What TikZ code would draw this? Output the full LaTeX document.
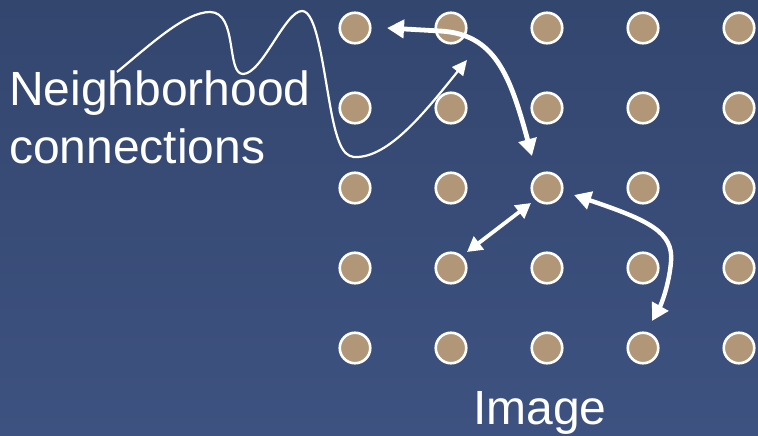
\documentclass[tikz,border=0pt]{standalone}
\usepackage{fontspec}
\setmainfont{Liberation Sans}
\usetikzlibrary{arrows.meta}
\definecolor{bgtop}{RGB}{51,70,110}
\definecolor{bgbot}{RGB}{62,82,129}
\definecolor{dot}{RGB}{177,151,120}
\tikzset{
  dotnode/.style={circle, fill=dot, draw=white, line width=2.6pt, minimum size=30.5pt, inner sep=0pt},
  lbl/.style={text=white, font=\fontsize{48}{57}\selectfont, inner sep=0pt, anchor=base west},
  thickarr/.style={white, line width=4.8pt, {Triangle[length=17pt,width=18pt]}-{Triangle[length=17pt,width=18pt]}},
  medarr/.style={white, line width=3.8pt, {Triangle[length=15pt,width=16pt]}-{Triangle[length=15pt,width=16pt]}},
  thinarr/.style={white, line width=2.2pt, -{Triangle[length=15pt,width=14pt]}},
}
\begin{document}
\begin{tikzpicture}[x=1pt,y=-1pt]
\shade[top color=bgtop, bottom color=bgbot] (0,0) rectangle (758,436);
\useasboundingbox (0,0) rectangle (758,436);
\foreach \i [count=\ci] in {355,451,547,643,739}{
  \foreach \j [count=\cj] in {28,108,188,268,348}{
    \node[dotnode] (c-\ci-\cj) at (\i,\j) {};
  }
}
\node[lbl] (nb) at (9,106) {Neighborhood};
\node[lbl] (cn) at (9,163) {connections};
\node[lbl] (img) at (473,424) {Image};
% connector endpoints
\coordinate (a1s) at (387,28);
\coordinate (a1e) at (532,156);
\coordinate (t0) at (117,72);
\coordinate (t1) at (467,60);
\coordinate (a3s) at (467,252);
\coordinate (a3e) at (531,203);
\coordinate (a4s) at (574,195);
\coordinate (a4e) at (652,321);
% thick arrow top
\draw[thickarr] (a1s) -- (440,31) .. controls (495,34) and (510,75) .. (a1e);
% thin wavy arrow
\draw[thinarr] (t0) .. controls (150,45) and (185,12) .. (210,12)
  .. controls (238,12) and (226,74) .. (243,74)
  .. controls (262,74) and (285,11) .. (302,11)
  .. controls (316,11) and (322,60) .. (330,105)
  .. controls (338,150) and (345,158) .. (358,157)
  .. controls (392,155) and (428,108) .. (t1);
% medium straight double arrow
\draw[medarr] (a3s) -- (a3e);
% curved double arrow right
\draw[thickarr, line width=4.4pt] (a4s) .. controls (648,220) and (674,232) .. (671,262)
  .. controls (669,285) and (661,305) .. (a4e);
\end{tikzpicture}
\end{document}
